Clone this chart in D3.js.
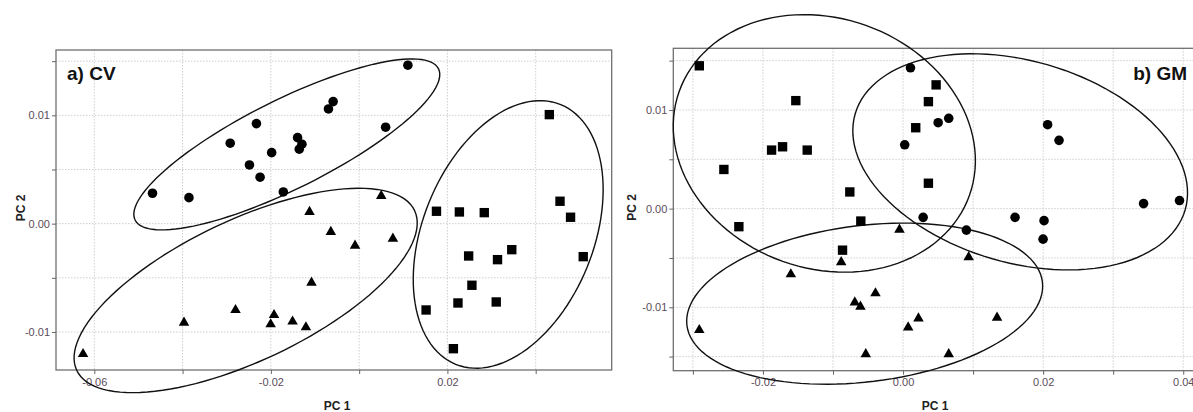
<!DOCTYPE html>
<html>
<head>
<meta charset="utf-8">
<script src="https://cdn.jsdelivr.net/npm/d3@7"></script>
<style>
  body { margin: 0; background: #fff; }
  svg { display: block; font-family: "Liberation Sans", Arial, sans-serif; }
  .grid line { stroke: #cfcfcf; stroke-dasharray: 1.5,1.5; }
  .axis text { fill: #5a4c5a; font-size: 11px; }
  .axis line { stroke: #666; }
</style>
</head>
<body>
<svg id="chart" width="1193" height="412"></svg>
<script>
// a) CV  -- PC1 / PC2 scores
var cvCircles = [
  [-0.04682, 0.002807], [-0.03856, 0.002401], [-0.02921, 0.007424], [-0.02327, 0.009234],
  [-0.02485, 0.005420], [-0.02244, 0.004285], [-0.01982, 0.006556], [-0.01718, 0.002927],
  [-0.01395, 0.007941], [-0.01296, 0.007332], [-0.01357, 0.006870], [-0.00695, 0.010591],
  [-0.00589, 0.011265], [0.00600, 0.008902], [0.01104, 0.014627]
];
var cvTriangles = [
  [-0.06255, -0.012032], [-0.03968, -0.009142], [-0.02801, -0.007969], [-0.01928, -0.008431],
  [-0.02005, -0.009289], [-0.01508, -0.009031], [-0.01206, -0.009566], [-0.01124, 0.001080],
  [-0.00641, -0.000766], [-0.01079, -0.005448], [-0.00093, -0.002031], [0.00501, 0.002558],
  [0.00765, -0.001385]
];
var cvSquares = [
  [0.01752, 0.001145], [0.02271, 0.001080], [0.02835, 0.001016], [0.04309, 0.010065],
  [0.04551, 0.002068], [0.04790, 0.000591], [0.05077, -0.003047], [0.02481, -0.002983],
  [0.03135, -0.003324], [0.03458, -0.002401], [0.02555, -0.005688], [0.02239, -0.007323],
  [0.03106, -0.007230], [0.01517, -0.007969], [0.02135, -0.011543]
];
// ellipses: centre x, centre y, then two conjugate semi-axis vectors (data units)
var cvEllipses = [
  [-0.01639, 0.007313, 0.03437, 0.006981, 0.004465, -0.003681],
  [-0.02571, -0.006168, 0.03828, 0.007369, 0.006776, -0.005890],
  [0.03377, -0.000997, 0.011898, 0.011986, 0.017923, -0.002977]
];
var cvXTicks = [-0.06, -0.04, -0.02, 0.00, 0.02, 0.04];
var cvXLabels = [-0.06, -0.02, 0.02];
var cvYTicks = [-0.01, -0.005, 0.00, 0.005, 0.01, 0.015];
var cvYLabels = [-0.01, 0.00, 0.01];

// b) GM
var gmCircles = [
  [0.00106, 0.014273], [0.00501, 0.008708], [0.00652, 0.009156], [0.00024, 0.006470],
  [0.02064, 0.008505], [0.02227, 0.006918], [0.00287, -0.000885], [0.00904, -0.002177],
  [0.01599, -0.000885], [0.02013, -0.001221], [0.01999, -0.003093], [0.03434, 0.000509],
  [0.03947, 0.000814]
];
var gmTriangles = [
  [-0.02909, -0.012309], [-0.01602, -0.006653], [-0.00883, -0.005432], [-0.00689, -0.009502],
  [-0.00608, -0.009939], [-0.00394, -0.008586], [-0.00532, -0.014751], [-0.00051, -0.002136],
  [0.00937, -0.004924], [0.00220, -0.011129], [0.00073, -0.012045], [0.01342, -0.011058],
  [0.00652, -0.014751]
];
var gmSquares = [
  [-0.02909, 0.014476], [-0.01531, 0.010946], [-0.01877, 0.005931], [-0.01720, 0.006267],
  [-0.01368, 0.005931], [-0.02558, 0.003967], [-0.02344, -0.001831], [-0.00760, 0.001689],
  [-0.00603, -0.001261], [-0.00864, -0.004212], [0.00472, 0.012543], [0.00362, 0.010844],
  [0.00181, 0.008199], [0.00362, 0.002574]
];
var gmEllipses = [
  [-0.01124, 0.006612, 0.020735, -0.005236, -0.005937, -0.011957],
  [0.01672, 0.004741, 0.023561, -0.004849, -0.003976, -0.009823],
  [-0.00548, -0.009634, 0.025378, 0.002190, 0.001335, -0.007868]
];
var gmXTicks = [-0.03, -0.02, -0.01, 0.00, 0.01, 0.02, 0.03, 0.04];
var gmXLabels = [-0.02, 0.00, 0.02, 0.04];
var gmYTicks = [-0.015, -0.01, -0.005, 0.00, 0.005, 0.01, 0.015];
var gmYLabels = [-0.01, 0.00, 0.01];

var svg = d3.select("#chart");
var fmt = d3.format(".2f");

function label(list) {
    return function (d) {
        var hit = list.some(function (v) { return Math.abs(v - d) < 1e-9; });
        return hit ? fmt(d).replace("\u2212", "-") : "";
    };
}

function drawPanel(p) {
    var x = d3.scaleLinear().domain(p.xDomain).range([p.left, p.right]);
    var y = d3.scaleLinear().domain(p.yDomain).range([p.bottom, p.top]);
    var g = svg.append("g");

    // dotted grid
    var grid = g.append("g").attr("class", "grid");
    grid.selectAll(".vx").data(p.xTicks).enter().append("line")
        .attr("x1", function (d) { return x(d); }).attr("x2", function (d) { return x(d); })
        .attr("y1", p.top).attr("y2", p.bottom);
    grid.selectAll(".hy").data(p.yTicks).enter().append("line")
        .attr("x1", p.left).attr("x2", p.right)
        .attr("y1", function (d) { return y(d); }).attr("y2", function (d) { return y(d); });

    // frame
    g.append("rect")
        .attr("x", p.left).attr("y", p.top)
        .attr("width", p.right - p.left).attr("height", p.bottom - p.top)
        .attr("fill", "none").attr("stroke", "#707070").attr("stroke-width", 1.3);

    var xAxis = g.append("g").attr("class", "axis")
        .attr("transform", "translate(0," + p.bottom + ")")
        .call(d3.axisBottom(x).tickValues(p.xTicks).tickSize(4).tickPadding(4)
            .tickFormat(label(p.xLabels)));
    xAxis.select(".domain").remove();

    var yAxis = g.append("g").attr("class", "axis")
        .attr("transform", "translate(" + p.left + ",0)")
        .call(d3.axisLeft(y).tickValues(p.yTicks).tickSize(4).tickPadding(2)
            .tickFormat(label(p.yLabels)));
    yAxis.select(".domain").remove();

    // axis titles
    g.append("text")
        .attr("x", p.xTitleX).attr("y", 410)
        .attr("text-anchor", "middle")
        .style("font-size", "12px").style("font-weight", "bold").style("fill", "#222")
        .text("PC 1");
    g.append("text")
        .attr("transform", "translate(" + p.yTitleX + "," + ((p.top + p.bottom) / 2 - 2) + ") rotate(-90)")
        .attr("text-anchor", "middle")
        .style("font-size", "12px").style("font-weight", "bold").style("fill", "#222")
        .text("PC 2");

    // panel title
    g.append("text")
        .attr("x", p.titleX).attr("y", 80)
        .attr("text-anchor", p.titleAnchor)
        .style("font-size", "19px").style("font-weight", "bold").style("fill", "#111")
        .text(p.title);

    // confidence ellipses
    var steps = d3.range(0, 120).map(function (i) { return i / 120 * 2 * Math.PI; });
    p.ellipses.forEach(function (e) {
        var pts = steps.map(function (t) {
            return [x(e[0] + e[2] * Math.cos(t) + e[4] * Math.sin(t)),
                    y(e[1] + e[3] * Math.cos(t) + e[5] * Math.sin(t))];
        });
        g.append("path")
            .attr("d", d3.line().curve(d3.curveLinearClosed)(pts))
            .attr("fill", "none").attr("stroke", "#111").attr("stroke-width", 1.4);
    });

    // points
    var groups = [
        {data: p.circles, type: d3.symbolCircle, size: 72},
        {data: p.squares, type: d3.symbolSquare, size: 88},
        {data: p.triangles, type: d3.symbolTriangle, size: 48}
    ];
    groups.forEach(function (s) {
        g.append("g").selectAll("path")
            .data(s.data)
            .enter().append("path")
            .attr("d", d3.symbol().type(s.type).size(s.size))
            .attr("transform", function (d) { return "translate(" + x(d[0]) + "," + y(d[1]) + ")"; })
            .attr("fill", "#000");
    });
}

drawPanel({
    left: 56, right: 611.7, top: 50, bottom: 370,
    xDomain: [-0.06868, 0.05722], yDomain: [-0.01351, 0.01603],
    xTicks: cvXTicks, xLabels: cvXLabels, yTicks: cvYTicks, yLabels: cvYLabels,
    circles: cvCircles, squares: cvSquares, triangles: cvTriangles, ellipses: cvEllipses,
    title: "a) CV", titleX: 67, titleAnchor: "start",
    xTitleX: 337, yTitleX: 25
});

drawPanel({
    left: 673.3, right: 1195, top: 48.3, bottom: 370.7,
    xDomain: [-0.03280, 0.04168], yDomain: [-0.01643, 0.01625],
    xTicks: gmXTicks, xLabels: gmXLabels, yTicks: gmYTicks, yLabels: gmYLabels,
    circles: gmCircles, squares: gmSquares, triangles: gmTriangles, ellipses: gmEllipses,
    title: "b) GM", titleX: 1187, titleAnchor: "end",
    xTitleX: 935, yTitleX: 636
});
</script>
</body>
</html>
